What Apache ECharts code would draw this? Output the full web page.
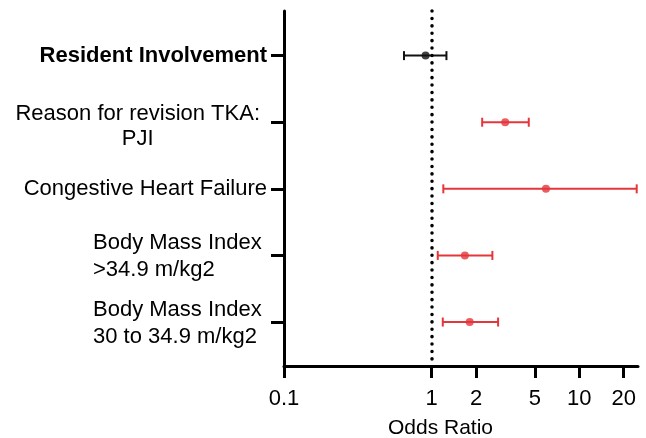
<!DOCTYPE html>
<html><head><meta charset="utf-8">
<script src="https://cdn.jsdelivr.net/npm/echarts@6/dist/echarts.min.js"></script>
<style>html,body{margin:0;padding:0;background:#fff}#c{width:646px;height:438px}</style>
</head><body><div id="c"></div>
<script>
const categories = ['Resident Involvement', 'Reason for revision TKA:\nPJI', 'Congestive Heart Failure', 'Body Mass Index\n>34.9 m/kg2', 'Body Mass Index\n30 to 34.9 m/kg2'];
const oddsRatio = [0.91, 3.15, 5.95, 1.68, 1.81];
const ciLow = [0.65, 2.2, 1.2, 1.1, 1.19];
const ciHigh = [1.26, 4.55, 24.5, 2.58, 2.82];
const xTicks = [0.1, 1, 2, 5, 10, 20];
const refLine = 1;
const xAxisName = 'Odds Ratio';

const FONT = '"Liberation Sans", Arial, sans-serif';
const BLACK = '#111111';
const RED = '#e5363b';
const rowIdx = categories.map((_, i) => i);
const colorOf = i => (ciLow[i] > refLine || ciHigh[i] < refLine) ? RED : BLACK;

function labelFor(v) {
  const i = Math.round(v);
  const lines = categories[i].split('\n');
  if (i === 0) return lines.map(s => '{b|' + s + '}').join('\n');
  if (lines.length > 1 && i === 1) return '{s9| }\n' + lines.map(s => '{c|' + s + '}').join('\n');
  if (lines.length > 1) return '{s3| }\n' + lines.map(s => '{l|' + s + '}').join('\n');
  return lines.map(s => '{r|' + s + '}').join('\n');
}

const chart = echarts.init(document.getElementById('c'), null, {renderer: 'canvas'});
const txt = {fontFamily: FONT, fontSize: 22, color: '#000', lineHeight: 26};
chart.setOption({
  animation: false,
  backgroundColor: '#fff',
  grid: {left: 284, right: 8, top: 11, bottom: 72, containLabel: false, outerBoundsMode: 'none'},
  xAxis: {
    type: 'log', logBase: 10, min: 0.1, max: 25,
    name: xAxisName, nameLocation: 'middle', nameGap: 52,
    nameTextStyle: {fontFamily: FONT, fontSize: 21, color: '#000', padding: [0, 41, 0, 0]},
    axisLine: {onZero: false, lineStyle: {color: '#000', width: 3}},
    axisTick: {show: true, customValues: xTicks, length: 12, lineStyle: {color: '#000', width: 3}},
    axisLabel: {customValues: xTicks, formatter: v => String(v), fontFamily: FONT, fontSize: 22, color: '#000', margin: 22},
    splitLine: {show: false}, minorTick: {show: false}, minorSplitLine: {show: false}
  },
  yAxis: {
    type: 'value', inverse: true, min: -0.67, max: 4.66,
    axisLine: {show: true, onZero: false, lineStyle: {color: '#000', width: 3}},
    axisTick: {show: true, customValues: rowIdx, length: 13, lineStyle: {color: '#000', width: 3}},
    axisLabel: {
      customValues: rowIdx, formatter: labelFor, margin: 17,
      fontFamily: FONT, fontSize: 22, color: '#000', lineHeight: 26,
      rich: {
        b: Object.assign({}, txt, {fontWeight: 'bold'}),
        s9: {fontSize: 2, lineHeight: 9},
        s3: {fontSize: 2, lineHeight: 3},
        c: Object.assign({}, txt, {align: 'center', lineHeight: 25, padding: [0, 7, 0, 0]}),
        l: Object.assign({}, txt, {align: 'left', width: 174, lineHeight: 27}),
        r: Object.assign({}, txt, {align: 'right'})
      }
    },
    splitLine: {show: false}
  },
  series: [
    {
      type: 'custom',
      data: rowIdx.map(i => [ciLow[i], ciHigh[i], i]),
      encode: {x: [0, 1], y: 2},
      renderItem: function (params, api) {
        const i = api.value(2);
        const a = api.coord([api.value(0), i]);
        const b = api.coord([api.value(1), i]);
        const h = 4.5;
        const st = {stroke: colorOf(i), lineWidth: 2, fill: null};
        return {
          type: 'group',
          children: [
            {type: 'line', shape: {x1: a[0], y1: a[1], x2: b[0], y2: b[1]}, style: st},
            {type: 'line', shape: {x1: a[0], y1: a[1] - h, x2: a[0], y2: a[1] + h}, style: st},
            {type: 'line', shape: {x1: b[0], y1: b[1] - h, x2: b[0], y2: b[1] + h}, style: st}
          ]
        };
      },
      z: 3
    },
    {
      type: 'scatter',
      symbol: 'circle', symbolSize: 8,
      data: rowIdx.map(i => ({value: [oddsRatio[i], i], itemStyle: {color: colorOf(i)}})),
      z: 4,
      markLine: {
        silent: true, symbol: 'none', label: {show: false},
        lineStyle: {color: '#000', width: 3.5, type: [0.1, 7.3], cap: 'round'},
        data: [{xAxis: refLine}]
      }
    }
  ]
});
</script>
</body></html>
